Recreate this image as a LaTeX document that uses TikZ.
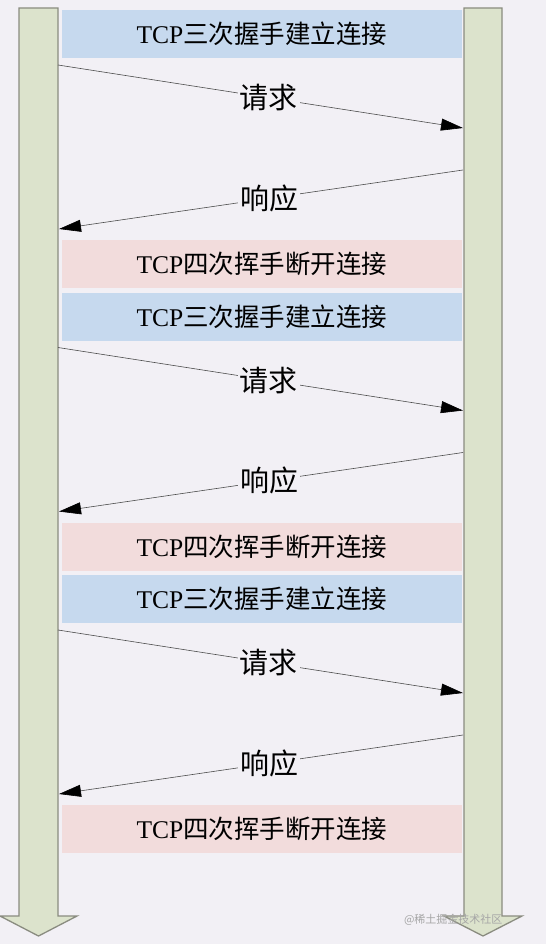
\documentclass[tikz,border=0pt]{standalone}
\usepackage{fontspec}
\setmainfont{Liberation Serif}
\newfontfamily\cjk{Noto Sans CJK SC}
\usetikzlibrary{arrows.meta}
\definecolor{bgc}{HTML}{F2F0F5}
\definecolor{barfill}{HTML}{DCE3CC}
\definecolor{barline}{HTML}{8A8C80}
\definecolor{bluebox}{HTML}{C6D9EE}
\definecolor{pinkbox}{HTML}{F2DCDC}
\tikzset{
  phasebox/.style={minimum width=400pt, minimum height=48pt, inner sep=0pt, font=\fontsize{25.5pt}{25.5pt}\selectfont},
  openbox/.style={phasebox, fill=bluebox},
  closebox/.style={phasebox, fill=pinkbox},
  msg/.style={draw=black!70, line width=0.6pt, -{Triangle[length=22pt,width=12pt,fill=black,color=black]}},
  msglabel/.style={fill=bgc, inner sep=2pt, font=\cjk\fontsize{29pt}{29pt}\selectfont},
  lifebar/.style={fill=barfill, draw=barline, line width=1.3pt},
}
\begin{document}
\begin{tikzpicture}[x=1pt,y=-1pt]
\fill[bgc] (0,0) rectangle (546,944);
\useasboundingbox (0,0) rectangle (546,944);
% lifelines
\draw[lifebar] (19,8) -- (58,8) -- (58,916) -- (77,916) -- (38.5,936) -- (0,916) -- (19,916) -- cycle;
\draw[lifebar] (464,8) -- (502,8) -- (502,916) -- (522,916) -- (483,936) -- (444,916) -- (464,916) -- cycle;
\foreach \i/\o in {1/0,2/282.5,3/565}{
  \node[openbox] (open\i) at (262,34+\o) {TCP{\cjk 三次握手建立连接}};
  \coordinate (reqs\i) at (58,65+\o);
  \coordinate (reqe\i) at (463,128+\o);
  \coordinate (ress\i) at (463,170+\o);
  \coordinate (rese\i) at (59,229+\o);
  \draw[msg] (reqs\i) -- node[msglabel, pos=0.52] (req\i) {请求} (reqe\i);
  \draw[msg] (ress\i) -- node[msglabel, pos=0.48] (res\i) {响应} (rese\i);
  \node[closebox] (close\i) at (262,264+\o) {TCP{\cjk 四次挥手断开连接}};
}
\node[text=gray!70, font=\cjk\fontsize{11pt}{11pt}\selectfont, anchor=east] (wm) at (506,920) {@稀土掘金技术社区};
\end{tikzpicture}
\end{document}
